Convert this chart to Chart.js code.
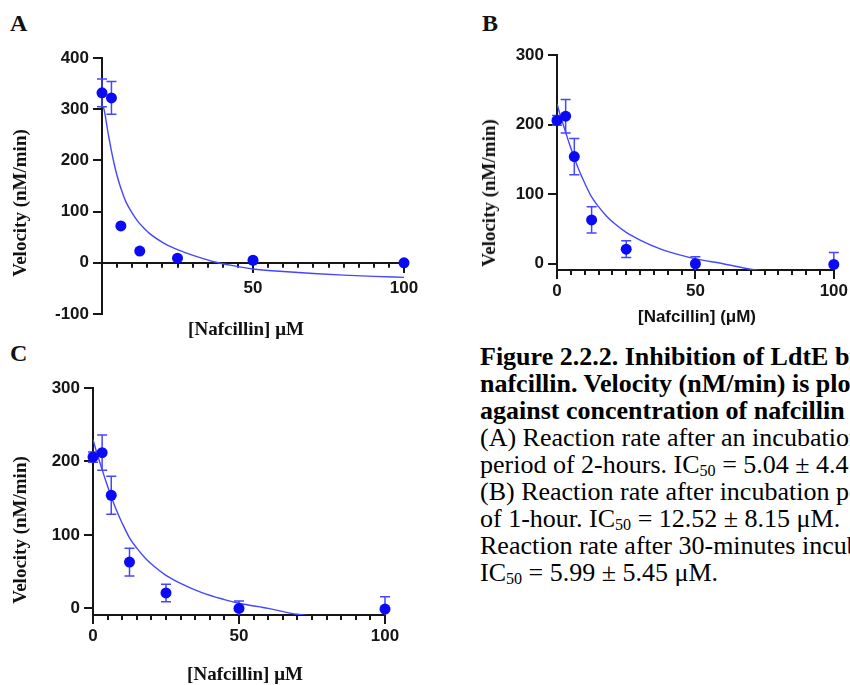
<!DOCTYPE html>
<html lang="en">
<head>
<meta charset="UTF-8">
<title>Inhibition of LdtE by nafcillin</title>
<script src="https://cdn.jsdelivr.net/npm/chart.js"></script>
<style>
  html, body { margin: 0; padding: 0; background: #fff; }
  body { width: 850px; height: 685px; position: relative; overflow: hidden; }
  canvas { position: absolute; }
  .lbl { position: absolute; white-space: nowrap; color: #111; transform: translate(-50%, -50%); }
  .serif { font-family: "Liberation Serif", "Times New Roman", serif; font-weight: bold; }
  .letter { font-size: 24px; transform: none; }
  .ttl { font-size: 19px; }
  .rot { transform: translate(-50%, -50%) rotate(-90deg); }
  .sans { font-family: "Liberation Sans", Arial, sans-serif; font-weight: bold; font-size: 17px; }
  #caption { position: absolute; left: 480px; top: 343px; font-family: "Liberation Serif", "Times New Roman", serif;
             font-size: 26px; line-height: 27px; white-space: nowrap; color: #000; }
  #caption div { height: 27px; }
  sub { font-size: 62%; vertical-align: -0.2em; line-height: 0; }
</style>
</head>
<body>
  <div class="lbl serif letter" style="left:10px; top:10px;">A</div>
  <div class="lbl serif letter" style="left:482px; top:10px;">B</div>
  <div class="lbl serif letter" style="left:10px; top:340px;">C</div>

  <canvas id="chartA" width="430" height="300" style="left:0; top:40px;"></canvas>
  <canvas id="chartB" width="380" height="290" style="left:470px; top:40px;"></canvas>
  <canvas id="chartC" width="430" height="315" style="left:0; top:370px;"></canvas>

  <div class="lbl serif ttl rot" style="left:20px; top:203px;">Velocity (nM/min)</div>
  <div class="lbl serif ttl" style="left:246px; top:329px;">[Nafcillin] μM</div>
  <div class="lbl serif ttl rot" style="left:489px; top:193px;">Velocity (nM/min)</div>
  <div class="lbl sans" style="left:697px; top:317px;">[Nafcillin] (μM)</div>
  <div class="lbl serif ttl rot" style="left:20px; top:530px;">Velocity (nM/min)</div>
  <div class="lbl serif ttl" style="left:245px; top:674px;">[Nafcillin] μM</div>

  <div id="caption">
    <div><b>Figure 2.2.2. Inhibition of LdtE by</b></div>
    <div><b>nafcillin. Velocity (nM/min) is plotted</b></div>
    <div><b>against concentration of nafcillin (μM).</b></div>
    <div>(A) Reaction rate after an incubation</div>
    <div>period of 2-hours. IC<sub>50</sub> = 5.04 ± 4.4</div>
    <div>(B) Reaction rate after incubation period</div>
    <div>of 1-hour. IC<sub>50</sub> = 12.52 ± 8.15 μM.</div>
    <div>Reaction rate after 30-minutes incubation.</div>
    <div>IC<sub>50</sub> = 5.99 ± 5.45 μM.</div>
  </div>

<script>
// nafcillin concentrations (uM), same for every panel
const conc = [0, 3.125, 6.25, 12.5, 25, 50, 100];

// tick values
const xTickVals = [0, 50, 100];
const yTicksA = [-100, 0, 100, 200, 300, 400];
const yTicksBC = [0, 100, 200, 300];

// panel A - 2 hour incubation
const velA = [332, 322, 72, 23, 9, 5, 0];
const sdA = [27, 32, 0, 0, 0, 0, 0];
const fitXA = [0.5, 1, 1.5, 2, 2.5, 3, 4, 5, 6, 7, 8, 10, 12, 14, 16, 20, 24, 28, 33, 37, 42, 50, 60, 70, 80, 90, 100];
const fitYA = [304, 290, 272, 254, 238, 222, 194, 170, 150, 133, 118, 97, 80, 67, 56, 40, 28, 19, 9, 2, -4, -12, -17, -21, -24, -26.5, -28.5];

// panel B - 1 hour incubation
const velB = [206, 212, 154, 63, 21, 0, -1];
const sdB = [7, 24, 26, 19, 12, 10, 17];
const fitXB = [0, 1, 2, 3.125, 4.5, 6.25, 8, 10, 12.5, 15, 18, 21, 25, 30, 37.5, 45, 50, 60, 70, 80, 90, 100];
const fitYB = [230, 216, 203, 189, 172, 152, 134, 116, 96, 82, 68, 57, 45, 34, 21, 12, 7, 0, -8, -12, -15, -18];

// panel C - 30 minute incubation
const velC = [206, 212, 154, 63, 21, 0, -1];
const sdC = [7, 24, 26, 19, 12, 10, 17];
const fitXC = [0, 1, 2, 3.125, 4.5, 6.25, 8, 10, 12.5, 15, 18, 21, 25, 30, 37.5, 45, 50, 60, 70, 80, 90, 100];
const fitYC = [230, 216, 203, 189, 172, 152, 134, 116, 96, 82, 68, 57, 45, 34, 21, 12, 7, 0, -8, -12, -15, -18];

const ink = '#161616';
const dotColor = '#0a0af5';
const fitColor = '#4646ff';

Chart.defaults.font.family = '"Liberation Sans", Arial, sans-serif';
Chart.defaults.font.weight = 'bold';
Chart.defaults.font.size = 17;
Chart.defaults.color = ink;

// vertical SD bars with caps, drawn under the markers
const errorBars = {
  id: 'errorBars',
  beforeDatasetsDraw(chart, args, opts) {
    const {ctx, chartArea, scales} = chart;
    const pts = chart.data.datasets[0].data;
    ctx.save();
    ctx.beginPath();
    ctx.rect(chartArea.left - 20, chartArea.top - 20, chartArea.width + 40, chartArea.height + 20);
    ctx.clip();
    ctx.strokeStyle = opts.color;
    ctx.lineWidth = 1.5;
    pts.forEach((p, i) => {
      const sd = opts.sd[i];
      if (!sd) return;
      const px = scales.x.getPixelForValue(p.x);
      const hi = scales.y.getPixelForValue(p.y + sd);
      const lo = scales.y.getPixelForValue(p.y - sd);
      ctx.beginPath();
      ctx.moveTo(px, hi); ctx.lineTo(px, lo);
      ctx.moveTo(px - 5, hi); ctx.lineTo(px + 5, hi);
      ctx.moveTo(px - 5, lo); ctx.lineTo(px + 5, lo);
      ctx.stroke();
    });
    ctx.restore();
  }
};

// short ticks every 5 uM between the labelled ones
const minorTicks = {
  id: 'minorTicks',
  beforeDatasetsDraw(chart, args, opts) {
    const {ctx, chartArea, scales} = chart;
    const x = scales.x;
    const y0 = opts.atZero ? scales.y.getPixelForValue(0) : chartArea.bottom;
    ctx.save();
    ctx.strokeStyle = ink;
    ctx.lineWidth = 2;
    ctx.beginPath();
    for (let v = x.min + 5; v < x.max; v += 5) {
      if (v % 50 === 0) continue;
      const px = Math.round(x.getPixelForValue(v));
      ctx.moveTo(px, y0);
      ctx.lineTo(px, y0 + 5);
    }
    ctx.stroke();
    ctx.restore();
  }
};

function points(xs, ys) {
  return xs.map((v, i) => ({x: v, y: ys[i]}));
}

function panel(id, o) {
  return new Chart(document.getElementById(id), {
    type: 'scatter',
    data: {
      datasets: [{
        data: points(conc, o.vel),
        backgroundColor: dotColor,
        borderWidth: 0,
        pointRadius: 5.5,
        clip: false,
        order: 0
      }, {
        data: points(o.fitX, o.fitY),
        showLine: true,
        pointRadius: 0,
        borderColor: fitColor,
        borderWidth: 1.4,
        cubicInterpolationMode: 'monotone',
        order: 1
      }]
    },
    options: {
      responsive: false,
      animation: false,
      events: [],
      layout: {padding: o.pad},
      plugins: {
        legend: {display: false},
        tooltip: {enabled: false},
        errorBars: {sd: o.sd, color: fitColor},
        minorTicks: {atZero: o.atZero}
      },
      scales: {
        x: {
          type: 'linear',
          min: 0, max: 100,
          position: o.atZero ? {y: 0} : 'bottom',
          afterFit: s => { s.height = 30; },
          afterBuildTicks: s => { s.ticks = xTickVals.map(v => ({value: v})); },
          border: {color: ink, width: 2},
          grid: {drawOnChartArea: false, color: ink, lineWidth: 2, tickLength: 9},
          ticks: {padding: o.atZero ? 6 : 2, maxRotation: 0,
                  callback: v => (o.atZero && v === 0) ? '' : v}
        },
        y: {
          min: o.ymin, max: o.ymax,
          afterFit: s => { s.width = 50; },
          afterBuildTicks: s => { s.ticks = o.yTicks.map(v => ({value: v})); },
          border: {color: ink, width: 2},
          grid: {drawOnChartArea: false, color: ink, lineWidth: 2, tickLength: 9},
          ticks: {padding: 4}
        }
      }
    },
    plugins: [errorBars, minorTicks]
  });
}

panel('chartA', {vel: velA, sd: sdA, fitX: fitXA, fitY: fitYA, ymin: -100, ymax: 400, yTicks: yTicksA, atZero: true,
                 pad: {left: 52, right: 26, top: 18, bottom: 26}});
panel('chartB', {vel: velB, sd: sdB, fitX: fitXB, fitY: fitYB, ymin: -9, ymax: 300, yTicks: yTicksBC, atZero: false,
                 pad: {left: 37, right: 16, top: 15, bottom: 30}});
panel('chartC', {vel: velC, sd: sdC, fitX: fitXC, fitY: fitYC, ymin: -9, ymax: 300, yTicks: yTicksBC, atZero: false,
                 pad: {left: 43, right: 45, top: 18, bottom: 40}});
</script>
</body>
</html>
